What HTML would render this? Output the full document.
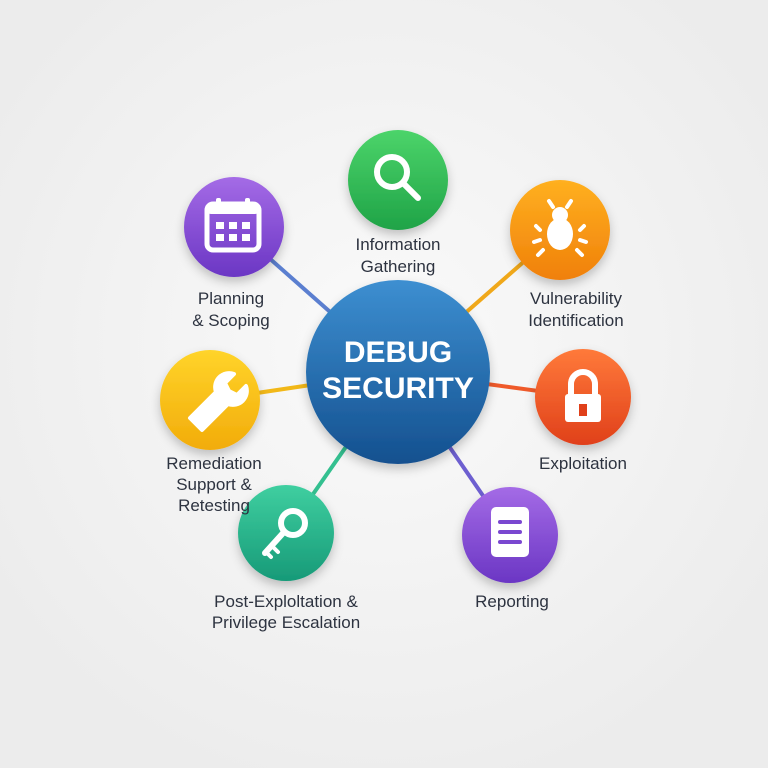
<!DOCTYPE html>
<html><head><meta charset="utf-8"><style>
body{margin:0;width:768px;height:768px;background:#f3f3f3;overflow:hidden}
svg{display:block}
text{font-family:"Liberation Sans",sans-serif;}
</style></head><body>
<svg width="768" height="768" viewBox="0 0 768 768">
<defs>
<radialGradient id="bg" cx="50%" cy="45%" r="60%"><stop offset="0" stop-color="#fafafa"/><stop offset="1" stop-color="#ececec"/></radialGradient>
<linearGradient id="gc" x1="0" y1="0" x2="0" y2="1"><stop offset="0" stop-color="#3d8fd1"/><stop offset="1" stop-color="#14508f"/></linearGradient>
<linearGradient id="g1" x1="0" y1="0" x2="0" y2="1"><stop offset="0" stop-color="#4cd46a"/><stop offset="1" stop-color="#1fa347"/></linearGradient>
<linearGradient id="g2" x1="0" y1="0" x2="0" y2="1"><stop offset="0" stop-color="#a46be6"/><stop offset="1" stop-color="#6b36c4"/></linearGradient>
<linearGradient id="g3" x1="0" y1="0" x2="0" y2="1"><stop offset="0" stop-color="#ffb020"/><stop offset="1" stop-color="#f0800a"/></linearGradient>
<linearGradient id="g4" x1="0" y1="0" x2="0" y2="1"><stop offset="0" stop-color="#ffd42a"/><stop offset="1" stop-color="#f2ac0a"/></linearGradient>
<linearGradient id="g5" x1="0" y1="0" x2="0" y2="1"><stop offset="0" stop-color="#ff7a3a"/><stop offset="1" stop-color="#e0401a"/></linearGradient>
<linearGradient id="g6" x1="0" y1="0" x2="0" y2="1"><stop offset="0" stop-color="#3fcfa0"/><stop offset="1" stop-color="#179a78"/></linearGradient>
<filter id="sh" x="-30%" y="-30%" width="160%" height="170%"><feDropShadow dx="0" dy="5" stdDeviation="5" flood-color="#000" flood-opacity="0.22"/></filter>
</defs>
<rect width="768" height="768" fill="url(#bg)"/>
<g stroke-width="4" stroke-linecap="round">
<line x1="398" y1="372" x2="234" y2="227" stroke="#5b7fd0"/>
<line x1="398" y1="372" x2="560" y2="230" stroke="#f0a81a"/>
<line x1="398" y1="372" x2="210" y2="400" stroke="#f2b818"/>
<line x1="398" y1="372" x2="583" y2="397" stroke="#ef5a2a"/>
<line x1="398" y1="372" x2="286" y2="533" stroke="#34c090"/>
<line x1="398" y1="372" x2="510" y2="535" stroke="#6d5fd0"/>
</g>
<g filter="url(#sh)">
<circle cx="398" cy="180" r="50" fill="url(#g1)"/>
<circle cx="234" cy="227" r="50" fill="url(#g2)"/>
<circle cx="560" cy="230" r="50" fill="url(#g3)"/>
<circle cx="210" cy="400" r="50" fill="url(#g4)"/>
<circle cx="583" cy="397" r="48" fill="url(#g5)"/>
<circle cx="286" cy="533" r="48" fill="url(#g6)"/>
<circle cx="510" cy="535" r="48" fill="url(#g2)"/>
<circle cx="398" cy="372" r="92" fill="url(#gc)"/>
</g>
<!-- icons -->
<g fill="none" stroke="#fff" stroke-width="6" stroke-linecap="round">
<circle cx="392" cy="172" r="15"/><line x1="403" y1="183" x2="418" y2="198"/>
</g>
<g fill="#fff">
<rect x="207" y="204" width="52" height="46" rx="6" fill="none" stroke="#fff" stroke-width="5"/>
<rect x="207" y="204" width="52" height="10" rx="4"/>
<rect x="216" y="198" width="5" height="11" rx="2"/><rect x="245" y="198" width="5" height="11" rx="2"/>
<rect x="216" y="222" width="8" height="7"/><rect x="229" y="222" width="8" height="7"/><rect x="242" y="222" width="8" height="7"/>
<rect x="216" y="234" width="8" height="7"/><rect x="229" y="234" width="8" height="7"/><rect x="242" y="234" width="8" height="7"/>
<ellipse cx="560" cy="234" rx="13" ry="16"/><circle cx="560" cy="215" r="8"/>
<rect x="567" y="407" width="0" height="0"/>
<rect x="565" y="394" width="36" height="28" rx="3"/>
<rect x="579" y="404" width="8" height="12" fill="#e0401a"/>
<rect x="491" y="507" width="38" height="50" rx="5"/>
</g>
<g stroke="#fff" stroke-width="4" stroke-linecap="round" fill="none">
<line x1="540" y1="230" x2="536" y2="226"/><line x1="540" y1="240" x2="534" y2="242"/><line x1="543" y1="250" x2="538" y2="255"/>
<line x1="580" y1="230" x2="584" y2="226"/><line x1="580" y1="240" x2="586" y2="242"/><line x1="577" y1="250" x2="582" y2="255"/>
<line x1="553" y1="207" x2="549" y2="201"/><line x1="567" y1="207" x2="571" y2="201"/>
<path d="M571 394 v-10 a12 12 0 0 1 24 0 v10" stroke-width="6"/>
<line x1="500" y1="522" x2="520" y2="522" stroke="#7a48d0"/><line x1="500" y1="532" x2="520" y2="532" stroke="#7a48d0"/><line x1="500" y1="542" x2="520" y2="542" stroke="#7a48d0"/>
<circle cx="293" cy="523" r="12" stroke-width="6"/>
<line x1="284" y1="532" x2="265" y2="553" stroke-width="6"/><line x1="272" y1="546" x2="278" y2="552"/><line x1="266" y1="552" x2="271" y2="557"/>
</g>
<path d="M190 418 L216 392 a14 14 0 0 1 18 -18 l-9 9 4 8 8 4 9 -9 a14 14 0 0 1 -18 18 L202 430 z" fill="#fff" stroke="#fff" stroke-width="4" stroke-linejoin="round"/>
<text x="398" y="362" font-size="30" font-weight="bold" fill="#fff" text-anchor="middle">DEBUG</text>
<text x="398" y="398" font-size="30" font-weight="bold" fill="#fff" text-anchor="middle">SECURITY</text>
<g font-size="17" fill="#2d3340" text-anchor="middle">
<text x="398" y="250">Information</text><text x="398" y="272">Gathering</text>
<text x="231" y="304">Planning</text><text x="231" y="326">&amp; Scoping</text>
<text x="576" y="304">Vulnerability</text><text x="576" y="326">Identification</text>
<text x="583" y="469">Exploitation</text>
<text x="214" y="469">Remediation</text><text x="214" y="490">Support &amp;</text><text x="214" y="511">Retesting</text>
<text x="286" y="607">Post-Exploltation &amp;</text><text x="286" y="628">Privilege Escalation</text>
<text x="512" y="607">Reporting</text>
</g>
</svg>
</body></html>
